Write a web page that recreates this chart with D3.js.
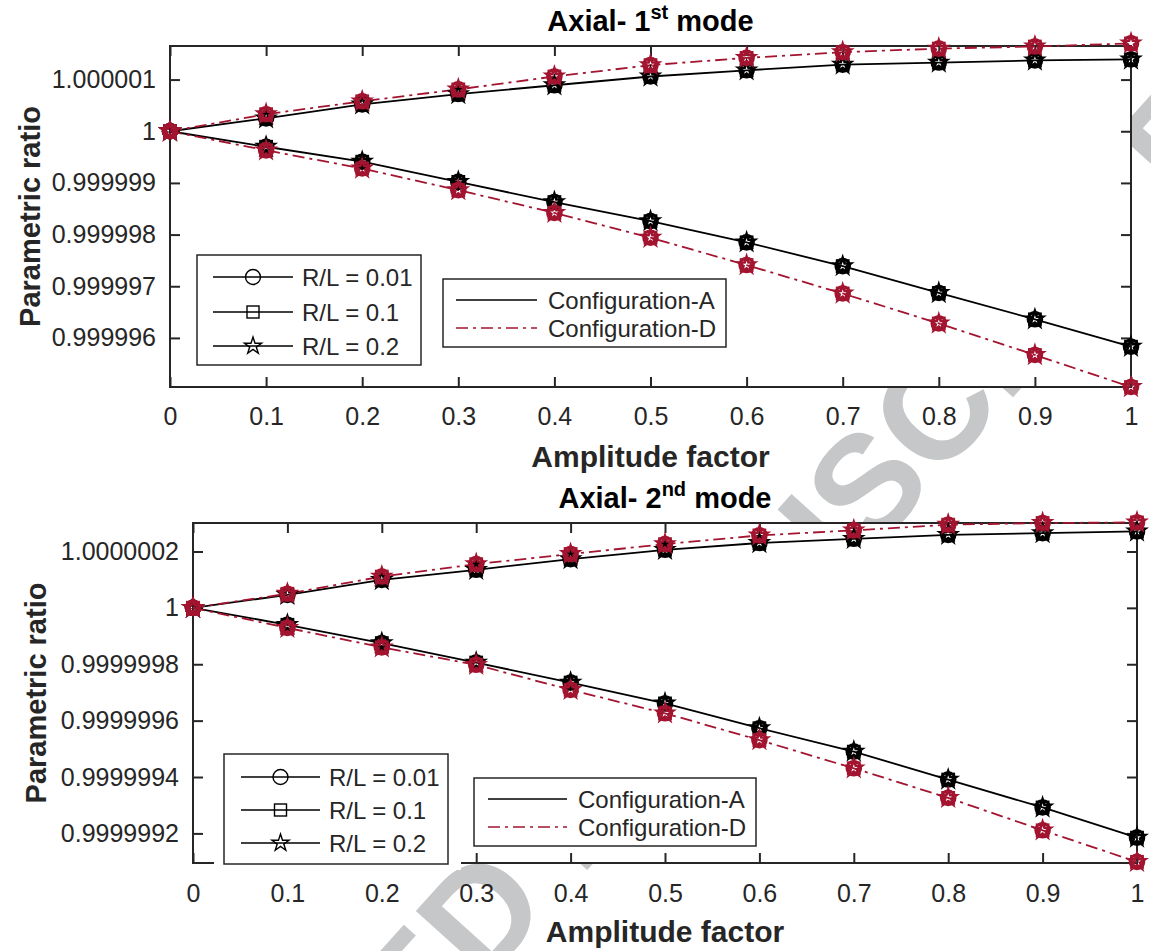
<!DOCTYPE html>
<html>
<head>
<meta charset="utf-8">
<script src="https://d3js.org/d3.v7.min.js"></script>
<style>
  body { margin: 0; background: #fff; }
  svg text { font-family: "Liberation Sans", Arial, sans-serif; }
</style>
</head>
<body>
<svg width="1151" height="951"></svg>
<script>
// ---- data ----
const amplitude = [0, 0.1, 0.2, 0.3, 0.4, 0.5, 0.6, 0.7, 0.8, 0.9, 1];
const ampTickLabels = ["0", "0.1", "0.2", "0.3", "0.4", "0.5", "0.6", "0.7", "0.8", "0.9", "1"];
const rlLabels = ["R/L = 0.01", "R/L = 0.1", "R/L = 0.2"];
const rlMarkers = ["circle", "square", "star"];
const configNames = ["Configuration-A", "Configuration-D"];

// Axial 1st mode
const mode1UpperA = [1, 1.00000025, 1.00000052, 1.00000072, 1.00000089, 1.00000106, 1.00000118, 1.00000129, 1.00000133, 1.00000137, 1.00000139];
const mode1UpperD = [1, 1.00000033, 1.00000058, 1.00000081, 1.00000106, 1.00000128, 1.00000142, 1.00000153, 1.00000160, 1.00000164, 1.00000170];
const mode1LowerA = [1, 0.99999970, 0.99999941, 0.99999902, 0.99999863, 0.99999826, 0.99999785, 0.99999739, 0.99999687, 0.99999636, 0.99999583];
const mode1LowerD = [1, 0.99999963, 0.99999928, 0.99999886, 0.99999842, 0.99999794, 0.99999741, 0.99999686, 0.99999628, 0.99999567, 0.99999505];
const mode1YTicks = [0.999996, 0.999997, 0.999998, 0.999999, 1, 1.000001];
const mode1YTickLabels = ["0.999996", "0.999997", "0.999998", "0.999999", "1", "1.000001"];
const mode1YDomain = [0.99999505, 1.00000165];

// Axial 2nd mode
const mode2UpperA = [1, 1.000000046, 1.000000099, 1.000000135, 1.000000173, 1.000000206, 1.000000230, 1.000000245, 1.000000259, 1.000000265, 1.000000271];
const mode2UpperD = [1, 1.000000050, 1.000000111, 1.000000155, 1.000000191, 1.000000226, 1.000000257, 1.000000275, 1.000000295, 1.000000301, 1.000000303];
const mode2LowerA = [1, 0.999999940, 0.999999875, 0.999999806, 0.999999735, 0.999999661, 0.999999573, 0.999999490, 0.999999391, 0.999999292, 0.999999185];
const mode2LowerD = [1, 0.999999929, 0.999999860, 0.999999798, 0.999999709, 0.999999626, 0.999999531, 0.999999431, 0.999999326, 0.999999211, 0.999999099];
const mode2YTicks = [0.9999992, 0.9999994, 0.9999996, 0.9999998, 1, 1.0000002];
const mode2YTickLabels = ["0.9999992", "0.9999994", "0.9999996", "0.9999998", "1", "1.0000002"];
const mode2YDomain = [0.999999095, 1.000000301];

// ---- drawing ----
const ink = "#262626";
const configColors = ["#000000", "#a2142f"];
const configDash = [null, "12,5,3,5"];
const svg = d3.select("svg");

// watermark (sits under the white axes)
svg.append("text")
  .attr("transform", "translate(20,1500) rotate(-48)")
  .attr("font-size", 145)
  .attr("font-weight", "bold")
  .attr("fill", "#c6c7c8")
  .text("ACCEPTED MANUSCRIPT");

function starPath(R) {
  const pts = [];
  for (let k = 0; k < 10; k++) {
    const a = -Math.PI / 2 + k * Math.PI / 5;
    const rr = k % 2 ? R * 0.382 : R;
    pts.push([rr * Math.cos(a), rr * Math.sin(a)]);
  }
  return "M" + pts.join("L") + "Z";
}

function drawMarker(g, type, cx, cy, color, s, sw) {
  if (type === "circle") {
    g.append("circle").attr("cx", cx).attr("cy", cy).attr("r", s * 0.5)
      .attr("fill", "none").attr("stroke", color).attr("stroke-width", sw);
  } else if (type === "square") {
    g.append("rect").attr("x", cx - s * 0.4).attr("y", cy - s * 0.4)
      .attr("width", s * 0.8).attr("height", s * 0.8)
      .attr("fill", "none").attr("stroke", color).attr("stroke-width", sw);
  } else {
    g.append("path").attr("transform", `translate(${cx},${cy})`).attr("d", starPath(s * 0.6))
      .attr("fill", "none").attr("stroke", color).attr("stroke-width", sw);
  }
}

function drawPanel(p) {
  const x = d3.scaleLinear().domain([0, 1]).range([p.left, p.right]);
  const y = d3.scaleLinear().domain(p.yDomain).range([p.bottom, p.top]);

  svg.append("rect").attr("x", p.left).attr("y", p.top)
    .attr("width", p.right - p.left).attr("height", p.bottom - p.top).attr("fill", "#fff");

  const ax = svg.append("g");
  const style = g => {
    g.select(".domain").remove();
    g.selectAll(".tick line").attr("stroke", ink).attr("stroke-width", 2);
    g.selectAll(".tick text").attr("fill", ink).attr("font-size", 25);
  };
  ax.append("g").attr("transform", `translate(0,${p.bottom})`)
    .call(d3.axisBottom(x).tickValues(amplitude).tickFormat((d, i) => ampTickLabels[i]).tickSize(-10).tickPadding(p.xPad))
    .call(style);
  ax.append("g").attr("transform", `translate(0,${p.top})`)
    .call(d3.axisTop(x).tickValues(amplitude).tickFormat("").tickSize(-10)).call(style);
  ax.append("g").attr("transform", `translate(${p.left},0)`)
    .call(d3.axisLeft(y).tickValues(p.yTicks).tickFormat((d, i) => p.yTickLabels[i]).tickSize(-10).tickPadding(14))
    .call(style);
  ax.append("g").attr("transform", `translate(${p.right},0)`)
    .call(d3.axisRight(y).tickValues(p.yTicks).tickFormat("").tickSize(-10)).call(style);
  ax.append("rect").attr("x", p.left).attr("y", p.top)
    .attr("width", p.right - p.left).attr("height", p.bottom - p.top)
    .attr("fill", "none").attr("stroke", ink).attr("stroke-width", 2);

  const line = d3.line().x((d, i) => x(amplitude[i])).y(d => y(d));
  const dg = svg.append("g");
  p.series.forEach(s => {
    dg.append("path").datum(s.values).attr("d", line)
      .attr("fill", "none").attr("stroke", configColors[s.config]).attr("stroke-width", 1.8)
      .attr("stroke-dasharray", configDash[s.config]);
  });
  p.series.forEach(s => {
    rlMarkers.forEach(m => {
      s.values.forEach((v, i) => drawMarker(dg, m, x(amplitude[i]), y(v), configColors[s.config], 14, 2.6));
    });
  });

  // axis labels & title
  svg.append("text").attr("x", (p.left + p.right) / 2).attr("y", p.xLabelY)
    .attr("text-anchor", "middle").attr("font-weight", "bold").attr("font-size", 30)
    .attr("fill", ink).text("Amplitude factor");
  svg.append("text").attr("transform", `translate(${p.yLabelX},${(p.top + p.bottom) / 2}) rotate(-90)`)
    .attr("text-anchor", "middle").attr("font-weight", "bold").attr("font-size", 29)
    .attr("fill", ink).text("Parametric ratio");
  const t = svg.append("text").attr("x", (p.left + p.right) / 2).attr("y", p.titleY)
    .attr("text-anchor", "middle").attr("font-weight", "bold").attr("font-size", 29).attr("fill", "#000");
  t.append("tspan").text(p.title[0]);
  t.append("tspan").attr("dy", -12).attr("font-size", 20).text(p.title[1]);
  t.append("tspan").attr("dy", 12).text(p.title[2]);

  // legend: R/L markers
  const L1 = p.leg1;
  if (L1.gap) {
    svg.append("rect").attr("x", L1.gap[0]).attr("y", L1.y - 4)
      .attr("width", L1.gap[1] - L1.gap[0]).attr("height", L1.h + 10).attr("fill", "#fff");
  }
  svg.append("rect").attr("x", L1.x).attr("y", L1.y).attr("width", L1.w).attr("height", L1.h)
    .attr("fill", "#fff").attr("stroke", ink).attr("stroke-width", 1.5);
  rlLabels.forEach((lab, i) => {
    const yy = L1.rows[i];
    svg.append("line").attr("x1", L1.lx[0]).attr("x2", L1.lx[1]).attr("y1", yy).attr("y2", yy)
      .attr("stroke", "#000").attr("stroke-width", 1.5);
    drawMarker(svg, rlMarkers[i], (L1.lx[0] + L1.lx[1]) / 2, yy, "#000", 15, 1.4);
    svg.append("text").attr("x", L1.tx).attr("y", yy).attr("dy", "0.36em")
      .attr("font-size", 24).attr("fill", ink).text(lab);
  });
  // legend: configurations
  const L2 = p.leg2;
  svg.append("rect").attr("x", L2.x).attr("y", L2.y).attr("width", L2.w).attr("height", L2.h)
    .attr("fill", "#fff").attr("stroke", ink).attr("stroke-width", 1.5);
  configNames.forEach((lab, i) => {
    const yy = L2.rows[i];
    svg.append("line").attr("x1", L2.lx[0]).attr("x2", L2.lx[1]).attr("y1", yy).attr("y2", yy)
      .attr("stroke", configColors[i]).attr("stroke-width", 1.5).attr("stroke-dasharray", configDash[i]);
    svg.append("text").attr("x", L2.tx).attr("y", yy).attr("dy", "0.36em")
      .attr("font-size", 24).attr("fill", ink).text(lab);
  });
}

drawPanel({
  left: 170, right: 1131, top: 46, bottom: 387,
  yDomain: mode1YDomain, yTicks: mode1YTicks, yTickLabels: mode1YTickLabels,
  xPad: 20, xLabelY: 467, yLabelX: 40, titleY: 31,
  title: ["Axial- 1", "st", " mode"],
  series: [
    { config: 0, values: mode1UpperA }, { config: 0, values: mode1LowerA },
    { config: 1, values: mode1UpperD }, { config: 1, values: mode1LowerD }
  ],
  leg1: { x: 197, y: 255, w: 224, h: 110, rows: [277, 312, 346], lx: [213, 293], tx: 302 },
  leg2: { x: 443, y: 279, w: 283, h: 68, rows: [300, 328], lx: [456, 537], tx: 548 }
});

drawPanel({
  left: 193, right: 1137, top: 523, bottom: 863,
  yDomain: mode2YDomain, yTicks: mode2YTicks, yTickLabels: mode2YTickLabels,
  xPad: 21, xLabelY: 942, yLabelX: 46, titleY: 508,
  title: ["Axial- 2", "nd", " mode"],
  series: [
    { config: 0, values: mode2UpperA }, { config: 0, values: mode2LowerA },
    { config: 1, values: mode2UpperD }, { config: 1, values: mode2LowerD }
  ],
  leg1: { x: 224, y: 754, w: 224, h: 110, rows: [777, 810, 843], lx: [241, 320], tx: 329, gap: [214, 461] },
  leg2: { x: 474, y: 778, w: 282, h: 68, rows: [799, 827], lx: [488, 567], tx: 578 }
});
</script>
</body>
</html>
